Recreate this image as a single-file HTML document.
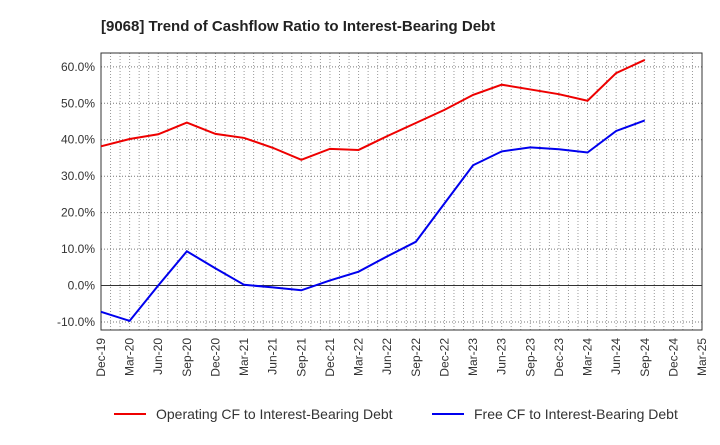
<!DOCTYPE html>
<html><head><meta charset="utf-8"><style>
body{margin:0;background:#fff;font-family:"Liberation Sans",sans-serif}
</style></head><body>
<svg id="chart" width="720" height="440" xmlns="http://www.w3.org/2000/svg">
<text x="101" y="31" font-size="15" font-weight="bold" fill="#222">[9068]  Trend of Cashflow Ratio to Interest-Bearing Debt</text>
<g id="grid"></g><g id="axes"></g><g id="series"></g>
<g>
<line x1="114" y1="414" x2="146" y2="414" stroke="#e00" stroke-width="2"/>
<text x="156" y="419" font-size="14" fill="#333">Operating CF to Interest-Bearing Debt</text>
<line x1="432" y1="414" x2="464" y2="414" stroke="#00e" stroke-width="2"/>
<text x="474" y="419" font-size="14" fill="#333">Free CF to Interest-Bearing Debt</text>
</g>
</svg>
<script>
const categories=["Dec-19","Mar-20","Jun-20","Sep-20","Dec-20","Mar-21","Jun-21","Sep-21","Dec-21","Mar-22","Jun-22","Sep-22","Dec-22","Mar-23","Jun-23","Sep-23","Dec-23","Mar-24","Jun-24","Sep-24","Dec-24","Mar-25"];
const operatingCF=[38.2,40.2,41.5,44.7,41.6,40.5,37.8,34.5,37.5,37.2,41,44.6,48.2,52.3,55.1,53.8,52.5,50.7,58.3,61.9];
const freeCF=[-7.2,-9.7,0,9.4,4.7,0.2,-0.5,-1.3,1.4,3.8,8,12,22.5,33,36.8,37.9,37.4,36.5,42.4,45.3];
const yTicks=[-10,0,10,20,30,40,50,60];
const L=101,R=702,T=53,B=330,yMin=-12.2,yMax=63.8;
const NS="http://www.w3.org/2000/svg";
const x=i=>L+i*(R-L)/(categories.length-1);
const y=v=>B-(v-yMin)/(yMax-yMin)*(B-T);
function mk(t,a,p){const e=document.createElementNS(NS,t);for(const k in a)e.setAttribute(k,a[k]);p.appendChild(e);return e;}
const grid=document.getElementById('grid'),axes=document.getElementById('axes'),ser=document.getElementById('series');
for(let k=0;k<=(categories.length-1)*3;k++){
 const gx=x(k/3);
 const gl=mk('line',{x1:gx,x2:gx,y1:T,y2:B,stroke:'#999','stroke-dasharray':'1,2'},grid);
 
 
}
categories.forEach((c,i)=>{
 const t=mk('text',{x:0,y:0,'font-size':12,fill:'#333','text-anchor':'end',transform:`translate(${x(i)+4},${B+8}) rotate(-90)`},axes);
 t.textContent=c;
 
 
});
yTicks.forEach(v=>{
 const gl=mk('line',{x1:L,x2:R,y1:y(v),y2:y(v),stroke:v===0?'#333':'#777','stroke-dasharray':v===0?'none':'1,2'},grid);
 
 
 const t=mk('text',{x:L-6,y:y(v)+4,'font-size':12,fill:'#333','text-anchor':'end'},axes);
 t.textContent=v.toFixed(1)+'%';
 
 
});
mk('rect',{x:L,y:T,width:R-L,height:B-T,fill:'none',stroke:'#333','stroke-width':1},grid);
function line(d,col,name){
 const p=mk('polyline',{points:d.map((v,i)=>x(i)+','+y(v)).join(' '),fill:'none',stroke:col,'stroke-width':2},ser);
 
 
}
line(operatingCF,'#e00','operating-cf-line');
line(freeCF,'#00e','free-cf-line');
</script>
</body></html>
